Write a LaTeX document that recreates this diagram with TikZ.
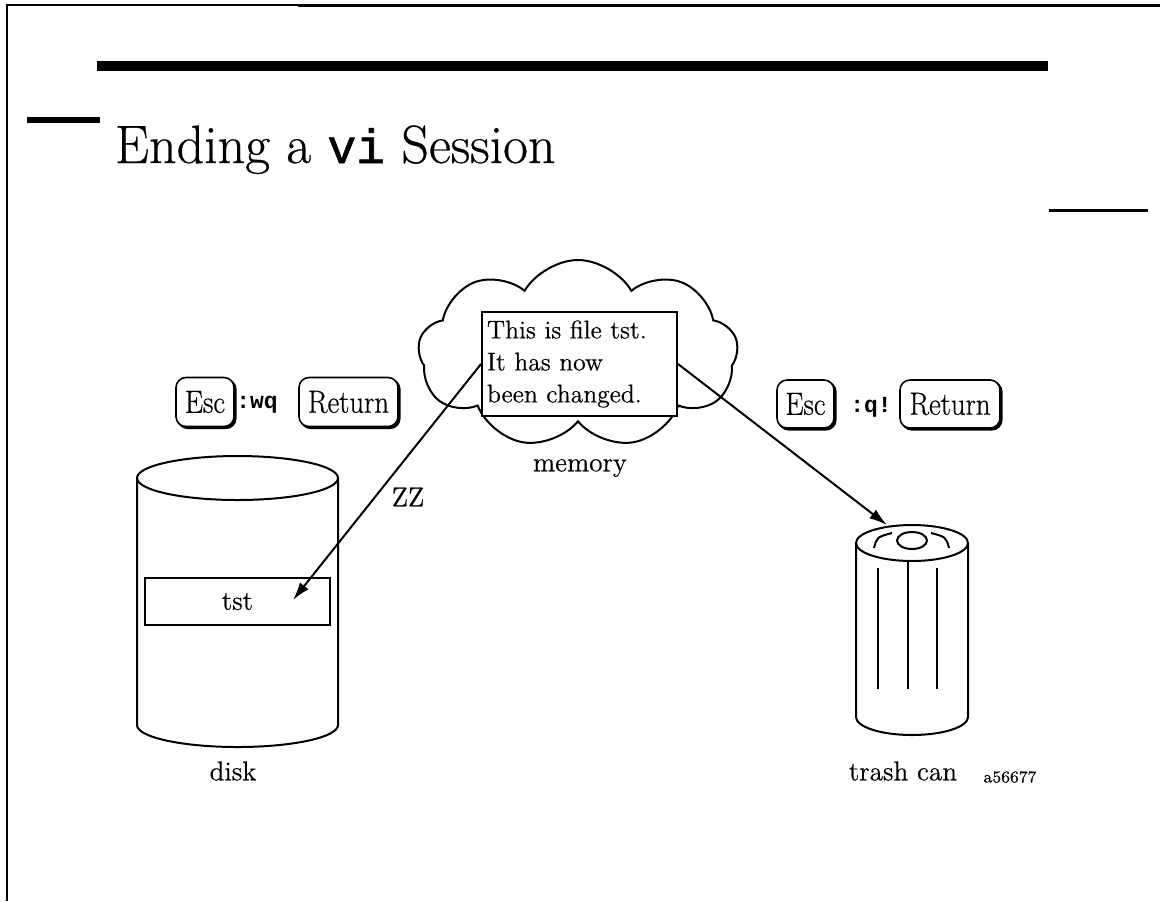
\documentclass[tikz,border=0pt]{standalone}
\usepackage{fontspec}
\usepackage{graphicx}
\usepackage{tikz}
\usetikzlibrary{arrows.meta,shapes.symbols,shadows}
\setmainfont{Latin Modern Roman}[FakeBold=0.5]
\newfontfamily\codefont{Liberation Mono}
\newfontfamily\codefontlight{Liberation Mono}[FakeBold=1.2]

\newcommand{\keytext}[1]{\fontsize{16}{16}\selectfont\scalebox{0.9}[1]{#1}}

\tikzset{
  keycap/.style={draw, fill=white, rounded corners=5pt, line width=0.8pt, inner sep=0pt,
    copy shadow={shadow xshift=0.9pt, shadow yshift=-0.9pt, fill=black, draw=black}},
  codetext/.style={font=\codefont\bfseries\fontsize{11.5}{12}\selectfont},
  plain/.style={font=\fontsize{13.6}{15}\selectfont},
  flow/.style={line width=1pt, -{Latex[length=9pt, width=5.5pt]}},
  outline/.style={line width=1pt}
}

\begin{document}
\begin{tikzpicture}[x=0.5pt, y=-0.5pt]
\useasboundingbox (0,0) rectangle (1160,901);

% page rules
\draw[line width=1pt] (7,901) -- (7,4.5) -- (298,4.5);
\fill (298,3.5) rectangle (1160,7);
\fill (97,61) rectangle (1048,71);
\fill (27,117) rectangle (100,123);
\fill (1049,209) rectangle (1148,212);

\draw (108,163) node (title) [anchor=base west, font=\fontsize{27}{32}\selectfont]
  {Ending a {\codefontlight\fontsize{24}{30}\selectfont vi} Session};

% memory
\draw (578,354) node (cloud) [cloud, draw, outline, cloud puffs=9, cloud puff arc=120,
  minimum width=160pt, minimum height=94pt] {};
\draw (579.5,364) node (txt) [draw, outline, fill=white, minimum width=97.5pt, minimum height=52pt,
  inner xsep=2.5pt, text width=92.5pt, align=left, font=\fontsize{12.8}{16}\selectfont]
  {This is file tst.\\It has now\\been changed.};
\draw (580,468) node (memory) [plain] {memory};

% disk
\draw[outline] (137,478) -- (137,725) arc[start angle=180, end angle=360, x radius=50.25pt, y radius=11pt] -- (338,478);
\draw[outline] (237.5,478) ellipse [x radius=50.25pt, y radius=11pt];
\draw (237.5,601.5) node (tst) [draw, outline, minimum width=92.5pt, minimum height=23.5pt, plain] {tst};
\draw (233,771) node (disk) [plain] {disk};

% trash can
\draw[outline] (856,543) -- (856,717) arc[start angle=180, end angle=360, x radius=28pt, y radius=9pt] -- (968,543);
\draw[outline] (912,543) ellipse [x radius=28pt, y radius=9pt];
\draw[outline] (912,540.5) ellipse [x radius=7.5pt, y radius=4.25pt];
\draw[outline] (874,548) .. controls (877,537) .. (892,533);
\draw[outline] (931,533) .. controls (946,537) .. (949,548);
\draw[outline] (878,568) -- (878,689);
\draw[outline] (908,561) -- (908,689);
\draw[outline] (937,568) -- (937,689);
\draw (903,771) node (trash) [plain] {trash can};

% keys
\draw (205,402) node (esc1) [keycap, minimum width=29pt, minimum height=24.5pt] {\keytext{Esc}};
\draw (257,405) node (wq) [codetext] {:wq};
\draw (348.5,402) node (ret1) [keycap, minimum width=49.5pt, minimum height=24.5pt] {\keytext{Return}};

\draw (805.5,404) node (esc2) [keycap, minimum width=28.5pt, minimum height=24pt] {\keytext{Esc}};
\draw (871,407) node (q) [codetext] {:q!};
\draw (950,404) node (ret2) [keycap, minimum width=50pt, minimum height=24pt] {\keytext{Return}};

% write and quit / quit without saving
\coordinate (zzend) at (293,600);
\coordinate (lid) at (887,525);
\draw[flow] (txt.west) -- (zzend);
\draw[flow] (txt.east) -- (lid);
\draw (408,497) node (zz) [plain] {ZZ};

\draw (1010,777) node (code) [font=\fontsize{8.3}{9}\selectfont] {a56677};
\end{tikzpicture}
\end{document}
